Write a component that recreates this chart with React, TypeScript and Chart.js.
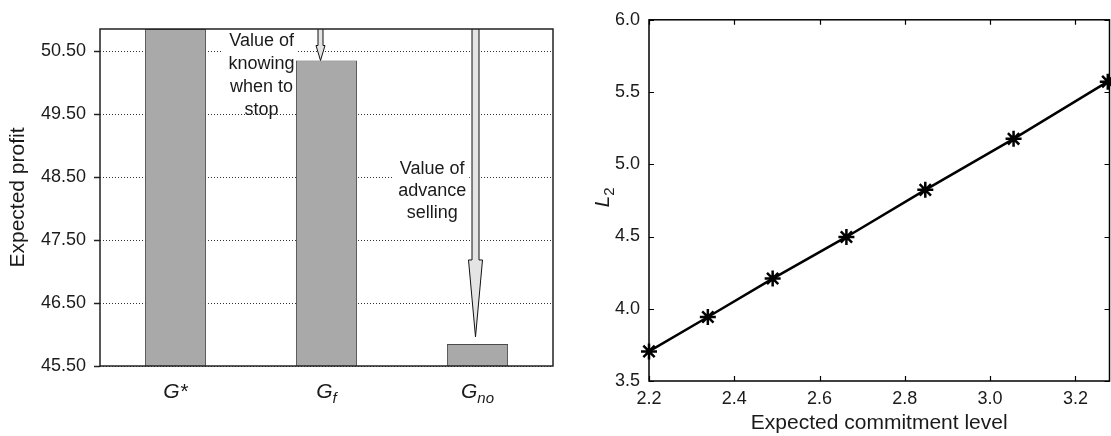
import React, { useEffect, useRef } from 'react';
import { Chart, registerables } from 'chart.js';

Chart.register(...registerables);

const FONT = "'Liberation Sans', Arial, Helvetica, sans-serif";
const INK = '#1a1a1a';

// Left panel: expected profit of the three policies
const PROFIT_KEYS = ['G*', 'Gf', 'Gno'];
const PROFIT_BASE = ['G*', 'G', 'G'];
const PROFIT_SUB = ['', 'f', 'no'];
const PROFIT_VALUES = [50.85, 50.35, 45.85];
const PROFIT_TICKS = [45.5, 46.5, 47.5, 48.5, 49.5, 50.5];
const PROFIT_MIN = 45.5;
const PROFIT_MAX = 50.85;
const NOTE_STOP = ['Value of', 'knowing', 'when to', 'stop'];
const NOTE_ADVANCE = ['Value of', 'advance', 'selling'];

// Right panel: L2 against the expected commitment level
const COMMIT_LEVEL = [2.2, 2.338, 2.49, 2.663, 2.848, 3.055, 3.276];
const L2_VALUES = [3.705, 3.943, 4.209, 4.497, 4.823, 5.176, 5.572];
const COMMIT_TICKS = [2.2, 2.4, 2.6, 2.8, 3.0, 3.2];
const L2_TICKS = [3.5, 4.0, 4.5, 5.0, 5.5, 6.0];
const COMMIT_MIN = 2.2;
const COMMIT_MAX = 3.28;
const L2_MIN = 3.5;
const L2_MAX = 6.0;

function drawArrow(ctx: CanvasRenderingContext2D, x: number, yTop: number, yTip: number,
  shaftHalf: number, headHalf: number, headLen: number) {
  const yHead = yTip - headLen;
  ctx.save();
  ctx.beginPath();
  ctx.moveTo(x - shaftHalf, yTop);
  ctx.lineTo(x - shaftHalf, yHead);
  ctx.lineTo(x - headHalf, yHead);
  ctx.lineTo(x, yTip);
  ctx.lineTo(x + headHalf, yHead);
  ctx.lineTo(x + shaftHalf, yHead);
  ctx.lineTo(x + shaftHalf, yTop);
  ctx.fillStyle = '#e4e4e4';
  ctx.fill();
  ctx.strokeStyle = '#111';
  ctx.lineWidth = 1;
  ctx.stroke();
  ctx.restore();
}

function notePlacement(chart: any) {
  const xs = chart.scales.x;
  const ys = chart.scales.y;
  const x0 = xs.getPixelForValue(0);
  const x1 = xs.getPixelForValue(1);
  const step = x1 - x0;
  return [
    { lines: NOTE_STOP, cx: x0 + step * 0.57, y0: ys.getPixelForValue(50.66), gap: 23, cover: 3 },
    { lines: NOTE_ADVANCE, cx: x1 + step * 0.70, y0: ys.getPixelForValue(48.62), gap: 22, cover: 3 },
  ];
}

const profitDecor = {
  id: 'profitDecor',
  beforeDatasetsDraw(chart: any) {
    const ctx = chart.ctx as CanvasRenderingContext2D;
    ctx.save();
    ctx.font = `18px ${FONT}`;
    for (const n of notePlacement(chart)) {
      const w = Math.max(...n.lines.slice(0, n.cover).map((t: string) => ctx.measureText(t).width));
      ctx.fillStyle = '#fff';
      ctx.fillRect(n.cx - w / 2 - 6, n.y0 - 11, w + 9, (n.cover - 1) * n.gap + 22);
    }
    ctx.restore();
  },
  afterDatasetsDraw(chart: any) {
    const ctx = chart.ctx as CanvasRenderingContext2D;
    const { top } = chart.chartArea;
    const bars = chart.getDatasetMeta(0).data;
    drawArrow(ctx, bars[1].x - 6, top, bars[1].y, 2.5, 4.5, 15);
    drawArrow(ctx, bars[2].x - 2, top, bars[2].y - 7, 3.5, 7, 77);

    ctx.save();
    ctx.font = `18px ${FONT}`;
    ctx.fillStyle = INK;
    ctx.textAlign = 'center';
    ctx.textBaseline = 'middle';
    for (const n of notePlacement(chart)) {
      n.lines.forEach((t: string, i: number) => ctx.fillText(t, n.cx, n.y0 + i * n.gap));
    }
    ctx.restore();
  },
  afterDraw(chart: any) {
    const ctx = chart.ctx as CanvasRenderingContext2D;
    const { left, top, right, bottom } = chart.chartArea;
    ctx.save();
    ctx.strokeStyle = '#222';
    ctx.lineWidth = 1.5;
    ctx.strokeRect(left, top, right - left, bottom - top);

    // category labels with subscripts
    const xs = chart.scales.x;
    const base = `italic 21px ${FONT}`;
    const small = `italic 15px ${FONT}`;
    ctx.fillStyle = INK;
    ctx.textAlign = 'left';
    ctx.textBaseline = 'alphabetic';
    PROFIT_KEYS.forEach((_k, i) => {
      ctx.font = base;
      const wb = ctx.measureText(PROFIT_BASE[i]).width;
      ctx.font = small;
      const ws = PROFIT_SUB[i] ? ctx.measureText(PROFIT_SUB[i]).width : 0;
      const cx = xs.getPixelForValue(i);
      const x = cx - (wb + ws) / 2;
      const y = bottom + 31.5;
      ctx.font = base;
      ctx.fillText(PROFIT_BASE[i], x, y);
      if (PROFIT_SUB[i]) {
        ctx.font = small;
        ctx.fillText(PROFIT_SUB[i], x + wb, y + 5);
      }
    });
    ctx.restore();
  },
};

const commitDecor = {
  id: 'commitDecor',
  afterDraw(chart: any) {
    const ctx = chart.ctx as CanvasRenderingContext2D;
    const { left, top, right, bottom } = chart.chartArea;
    const xs = chart.scales.x;
    const ys = chart.scales.y;
    const len = 5;
    ctx.save();
    ctx.strokeStyle = '#000';
    ctx.lineWidth = 1.5;
    ctx.strokeRect(left, top, right - left, bottom - top);
    ctx.lineWidth = 1.2;
    ctx.beginPath();
    for (const t of xs.ticks) {
      const x = Math.round(xs.getPixelForValue(t.value)) + 0.5;
      ctx.moveTo(x, bottom); ctx.lineTo(x, bottom - len);
      ctx.moveTo(x, top); ctx.lineTo(x, top + len);
    }
    for (const t of ys.ticks) {
      const y = Math.round(ys.getPixelForValue(t.value)) + 0.5;
      ctx.moveTo(left, y); ctx.lineTo(left + len, y);
      ctx.moveTo(right, y); ctx.lineTo(right - len, y);
    }
    ctx.stroke();

    // rotated axis title L with subscript 2
    ctx.translate(42, (top + bottom) / 2 - 3);
    ctx.rotate(-Math.PI / 2);
    ctx.fillStyle = INK;
    ctx.textBaseline = 'alphabetic';
    ctx.textAlign = 'left';
    ctx.font = `italic 21px ${FONT}`;
    const wL = ctx.measureText('L').width;
    ctx.font = `15px ${FONT}`;
    const w2 = ctx.measureText('2').width;
    const x0 = -(wL + w2) / 2;
    ctx.font = `italic 21px ${FONT}`;
    ctx.fillText('L', x0, 7);
    ctx.font = `15px ${FONT}`;
    ctx.fillText('2', x0 + wL, 12);
    ctx.restore();
  },
};

function ProfitChart() {
  const ref = useRef<HTMLCanvasElement>(null);
  useEffect(() => {
    const chart = new Chart(ref.current as HTMLCanvasElement, {
      type: 'bar',
      data: {
        labels: PROFIT_KEYS,
        datasets: [{
          data: PROFIT_VALUES,
          backgroundColor: '#a9a9a9',
          borderColor: '#4a4a4a',
          borderWidth: 1,
          barPercentage: 0.405,
          categoryPercentage: 1,
        }],
      },
      options: {
        animation: false,
        responsive: false,
        layout: { padding: { left: 0, top: 29, right: 7, bottom: 0 } },
        plugins: { legend: { display: false }, tooltip: { enabled: false } },
        scales: {
          x: {
            grid: { display: false, drawTicks: false },
            border: { display: false },
            ticks: { display: false },
            afterFit(s: any) { s.height = 70; },
          },
          y: {
            min: PROFIT_MIN,
            max: PROFIT_MAX,
            afterBuildTicks(s: any) { s.ticks = PROFIT_TICKS.map((v) => ({ value: v })); },
            ticks: {
              callback: (v: any) => Number(v).toFixed(2),
              font: { size: 18, family: FONT },
              color: INK,
              padding: 8,
            },
            grid: {
              color: '#333',
              lineWidth: 1,
              drawTicks: true,
              tickLength: 6,
              tickColor: '#222',
              tickWidth: 1.5,
              tickBorderDash: [],
            },
            border: { display: false, dash: [1, 2] },
            title: {
              display: true,
              text: 'Expected profit',
              font: { size: 21, family: FONT },
              color: INK,
              padding: { top: 6, bottom: 0 },
            },
            afterFit(s: any) { s.width = 100; },
          },
        },
      } as any,
      plugins: [profitDecor],
    });
    return () => chart.destroy();
  }, []);
  return <canvas ref={ref} width={560} height={436} style={{ position: 'absolute', left: 0, top: 0 }} />;
}

function CommitChart() {
  const ref = useRef<HTMLCanvasElement>(null);
  useEffect(() => {
    const chart = new Chart(ref.current as HTMLCanvasElement, {
      type: 'scatter',
      data: {
        datasets: [{
          data: COMMIT_LEVEL.map((x, i) => ({ x, y: L2_VALUES[i] })),
          showLine: true,
          borderColor: '#000',
          borderWidth: 2.5,
          pointStyle: 'star',
          pointRadius: 8,
          pointBorderWidth: 2.5,
          pointBorderColor: '#000',
          pointBackgroundColor: '#000',
          clip: false,
        }],
      },
      options: {
        animation: false,
        responsive: false,
        layout: { padding: { left: 0, top: 17, right: 8, bottom: 0 } },
        plugins: { legend: { display: false }, tooltip: { enabled: false } },
        scales: {
          x: {
            type: 'linear',
            min: COMMIT_MIN,
            max: COMMIT_MAX,
            afterBuildTicks(s: any) { s.ticks = COMMIT_TICKS.map((v) => ({ value: v })); },
            ticks: {
              callback: (v: any) => Number(v).toFixed(1),
              font: { size: 18, family: FONT },
              color: INK,
              padding: 7,
              maxRotation: 0,
              autoSkip: false,
            },
            grid: { display: false, drawTicks: false },
            border: { display: false },
            title: {
              display: true,
              text: 'Expected commitment level',
              font: { size: 21, family: FONT },
              color: INK,
              padding: { top: 0, bottom: 0 },
            },
            afterFit(s: any) { s.height = 55; },
          },
          y: {
            min: L2_MIN,
            max: L2_MAX,
            afterBuildTicks(s: any) { s.ticks = L2_TICKS.map((v) => ({ value: v })); },
            ticks: {
              callback: (v: any) => Number(v).toFixed(1),
              font: { size: 18, family: FONT },
              color: INK,
              padding: 9,
            },
            grid: { display: false, drawTicks: false },
            border: { display: false },
            afterFit(s: any) { s.width = 89; },
          },
        },
      } as any,
      plugins: [commitDecor],
    });
    return () => chart.destroy();
  }, []);
  return <canvas ref={ref} width={560} height={436} style={{ position: 'absolute', left: 560, top: 0 }} />;
}

export default function App() {
  return (
    <div style={{ position: 'fixed', left: 0, top: 0, width: 1111, height: 436, overflow: 'hidden', background: '#fff' }}>
      <ProfitChart />
      <CommitChart />
    </div>
  );
}
